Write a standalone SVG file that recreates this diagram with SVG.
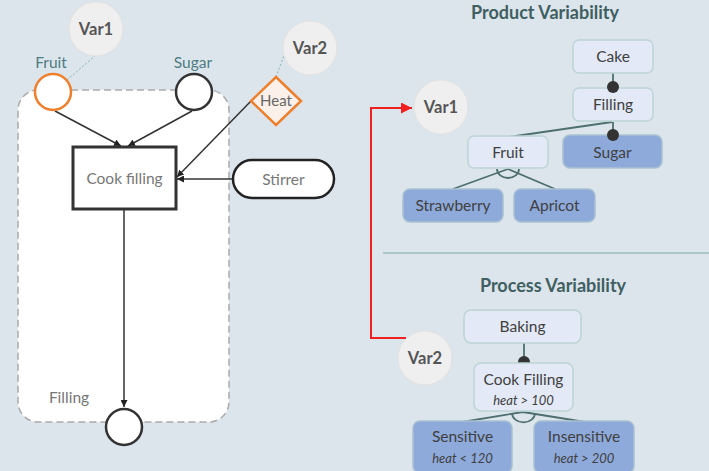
<svg xmlns="http://www.w3.org/2000/svg" width="709" height="471" viewBox="0 0 709 471">
<defs>
<marker id="ah" viewBox="0 0 10 10" refX="10" refY="5" markerWidth="7" markerHeight="7" markerUnits="userSpaceOnUse" orient="auto"><path d="M0,0 L10,5 L0,10 Z" fill="#222"/></marker>
<marker id="ahr" viewBox="0 0 10 10" refX="10" refY="5" markerWidth="11" markerHeight="11" markerUnits="userSpaceOnUse" orient="auto"><path d="M0,0 L10,5 L0,10 Z" fill="#f02020"/></marker>
<style>
text{font-family:Lato,"Open Sans","Liberation Sans",sans-serif;text-anchor:middle}
.var{fill:#efefef;stroke:#e2e2e2;stroke-width:1}
.vt{font-size:16.5px;font-weight:bold;fill:#555}
.lbl{font-size:15.5px;fill:#4e7c82}
.gt{font-size:15.5px;fill:#777}
.flow{stroke:#333;stroke-width:1.5;fill:none;marker-end:url(#ah)}
.dot{stroke:#80b3b8;stroke-width:1;stroke-dasharray:2,2;fill:none}
.lt{fill:#e3e9f7;stroke:#bdd4d4;stroke-width:1.5}
.dk{fill:#8eaadb;stroke:#a9c1d2;stroke-width:1.5}
.ft{font-size:15.5px;fill:#404040}
.it{font-size:13px;font-style:italic;fill:#404040}
.tree{stroke:#4d6f6f;stroke-width:1.8;fill:none}
.title{font-size:18px;font-weight:bold;fill:#3f5f62}
</style>
</defs>
<rect width="709" height="471" fill="#dce5eb"/>
<g id="process-area">
<rect x="18" y="90" width="211" height="332" rx="20" fill="#ffffff" stroke="#aaaaaa" stroke-width="1.5" stroke-dasharray="7,4"/>
<text class="gt" x="69" y="403">Filling</text>
</g>
<g id="connectors">
<line class="dot" x1="67" y1="80" x2="95" y2="56"/>
<line class="dot" x1="276" y1="77" x2="285" y2="53"/>
<line class="flow" x1="55" y1="111" x2="121" y2="146"/>
<line class="flow" x1="192" y1="111" x2="128" y2="146"/>
<line class="flow" x1="251" y1="101" x2="177" y2="177"/>
<line class="flow" x1="232" y1="179" x2="177" y2="179"/>
<line class="flow" x1="124" y1="210" x2="124" y2="407"/>
<polyline points="406,338 371,338 371,108 412,108" fill="none" stroke="#f02020" stroke-width="2" marker-end="url(#ahr)"/>
<line x1="383" y1="253" x2="709" y2="253" stroke="#9dbcbc" stroke-width="1.5"/>
<line class="tree" x1="613" y1="73" x2="613" y2="87"/>
<line class="tree" x1="613" y1="122" x2="613" y2="135"/>
<line class="tree" x1="612" y1="122" x2="509" y2="137"/>
<path class="tree" d="M508,169 L453,189 M508,169 L555,189"/>
<path class="tree" d="M497,169 A11,9 0 0 0 519,169"/>
<line class="tree" x1="524" y1="343" x2="524" y2="362"/>
<path class="tree" d="M523,412 L462,422 M523,412 L585,422"/>
<path class="tree" d="M512,413 A11,9 0 0 0 535,413"/>
</g>
<g id="var1-left"><circle class="var" cx="96" cy="29" r="27"/><text class="vt" x="96" y="35">Var1</text></g>
<g id="fruit-in"><text class="lbl" x="51" y="68">Fruit</text><circle cx="53" cy="92" r="18" fill="#fff" stroke="#ee7f2d" stroke-width="2.5"/></g>
<g id="sugar-in"><text class="lbl" x="193" y="68">Sugar</text><circle cx="194" cy="92" r="18" fill="#fff" stroke="#333" stroke-width="2.5"/></g>
<g id="var2-left"><circle class="var" cx="310" cy="48" r="27"/><text class="vt" x="310" y="54">Var2</text></g>
<g id="heat"><polygon points="276,77 301,101 276,125 251,101" fill="#fcf1ea" stroke="#ee7f2d" stroke-width="2.5"/><text class="gt" x="276" y="106" style="fill:#666;font-size:15px">Heat</text></g>
<g id="cook-filling"><rect x="73" y="147" width="103" height="62" fill="#fff" stroke="#333" stroke-width="3"/><text class="gt" x="124.5" y="184">Cook filling</text></g>
<g id="stirrer"><rect x="233" y="160" width="101" height="38" rx="19" fill="#fff" stroke="#222" stroke-width="2.5"/><text class="gt" x="283.5" y="185">Stirrer</text></g>
<g id="filling-out"><circle cx="124" cy="427" r="18" fill="#fff" stroke="#333" stroke-width="2.5"/></g>
<g id="title-product"><text class="title" x="545" y="19">Product Variability</text></g>
<g id="var1-right"><circle class="var" cx="441" cy="107" r="27"/><text class="vt" x="441" y="113">Var1</text></g>
<g id="cake"><rect class="lt" x="573" y="40" width="80" height="33" rx="6"/><text class="ft" x="613" y="62">Cake</text></g>
<g id="filling"><rect class="lt" x="573" y="88" width="80" height="33" rx="6"/><text class="ft" x="613" y="110">Filling</text></g>
<g id="fruit"><rect class="lt" x="468" y="136" width="80" height="32" rx="6"/><text class="ft" x="508" y="158">Fruit</text></g>
<g id="sugar"><rect class="dk" x="563" y="135" width="99" height="33" rx="7"/><text class="ft" x="612.5" y="158">Sugar</text></g>
<g id="strawberry"><rect class="dk" x="403" y="189" width="100" height="33" rx="7"/><text class="ft" x="453" y="211">Strawberry</text></g>
<g id="apricot"><rect class="dk" x="514" y="189" width="81" height="33" rx="7"/><text class="ft" x="554.5" y="211">Apricot</text></g>
<g id="dots"><circle cx="613" cy="87" r="6" fill="#333"/><circle cx="613" cy="135" r="6" fill="#333"/><circle cx="524" cy="362" r="6" fill="#333"/></g>
<g id="title-process"><text class="title" x="553" y="292">Process Variability</text></g>
<g id="var2-right"><circle class="var" cx="425" cy="358" r="27"/><text class="vt" x="425" y="364">Var2</text></g>
<g id="baking"><rect class="lt" x="464" y="310" width="117" height="33" rx="7"/><text class="ft" x="522.5" y="332">Baking</text></g>
<g id="cook-filling-f"><rect class="lt" x="474" y="363" width="99" height="48" rx="7"/><text class="ft" x="523.5" y="385">Cook Filling</text><text class="it" x="523.5" y="405">heat &gt; 100</text></g>
<g id="sensitive"><rect class="dk" x="413" y="421" width="99" height="52" rx="7"/><text class="ft" x="462.5" y="442">Sensitive</text><text class="it" x="462.5" y="463">heat &lt; 120</text></g>
<g id="insensitive"><rect class="dk" x="534" y="421" width="100" height="52" rx="7"/><text class="ft" x="584" y="442">Insensitive</text><text class="it" x="584" y="463">heat &gt; 200</text></g>
</svg>
